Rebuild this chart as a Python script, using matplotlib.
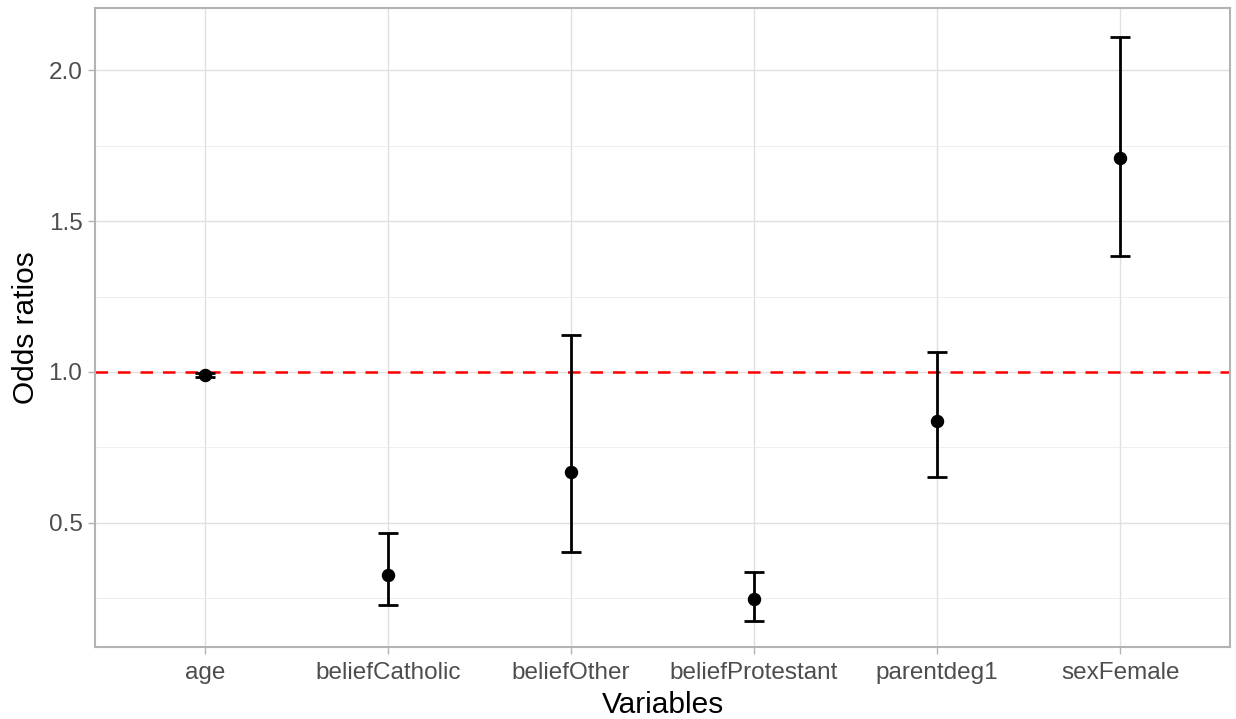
import matplotlib
matplotlib.use("Agg")
import matplotlib.pyplot as plt

variables = ["age", "beliefCatholic", "beliefOther", "beliefProtestant", "parentdeg1", "sexFemale"]
odds = [0.990, 0.327, 0.668, 0.247, 0.837, 1.710]
lower = [0.983, 0.227, 0.403, 0.174, 0.652, 1.385]
upper = [0.996, 0.466, 1.123, 0.337, 1.066, 2.111]
yticks = [0.5, 1.0, 1.5, 2.0]

plt.rcParams["font.family"] = ["Liberation Sans", "DejaVu Sans"]

fig = plt.figure(figsize=(12.36, 7.19), dpi=100)
ax = fig.add_axes([95 / 1236, 1 - 647 / 719, 1135 / 1236, 639 / 719])

x = list(range(len(variables)))
err = [[o - l for o, l in zip(odds, lower)], [u - o for o, u in zip(odds, upper)]]
ax.errorbar(x, odds, yerr=err, fmt="none", ecolor="black", elinewidth=2,
            capsize=7.2, capthick=2, zorder=3)
ax.scatter(x, odds, s=75, color="black", zorder=4)
ax.axhline(1.0, color="red", linestyle=(0, (5, 4)), linewidth=1.8, zorder=2)

ax.set_xlim(-0.6, len(variables) - 0.4)
ax.set_ylim(0.088, 2.207)
ax.set_xticks(x)
ax.set_xticklabels(variables)
ax.set_yticks(yticks)
ax.set_yticklabels([f"{v:.1f}" for v in yticks])
ax.set_yticks([0.25, 0.75, 1.25, 1.75], minor=True)

ax.grid(True, which="major", color="#E0E0E0", linewidth=1.0, zorder=0)
ax.grid(True, which="minor", axis="y", color="#EBEBEB", linewidth=0.6, zorder=0)
ax.set_axisbelow(True)
for s in ax.spines.values():
    s.set_color("#B3B3B3")
    s.set_linewidth(1.5)

ax.tick_params(axis="both", which="major", colors="#B3B3B3", length=5, width=1,
               labelcolor="#4D4D4D", labelsize=17.5, pad=4)
ax.tick_params(axis="x", which="major", pad=6)
ax.tick_params(axis="y", which="minor", length=0)

ax.set_xlabel("Variables", fontsize=21.5, color="black", labelpad=5)
ax.set_ylabel("Odds ratios", fontsize=21.5, color="black", labelpad=6)

fig.savefig("out.png", dpi=100)
